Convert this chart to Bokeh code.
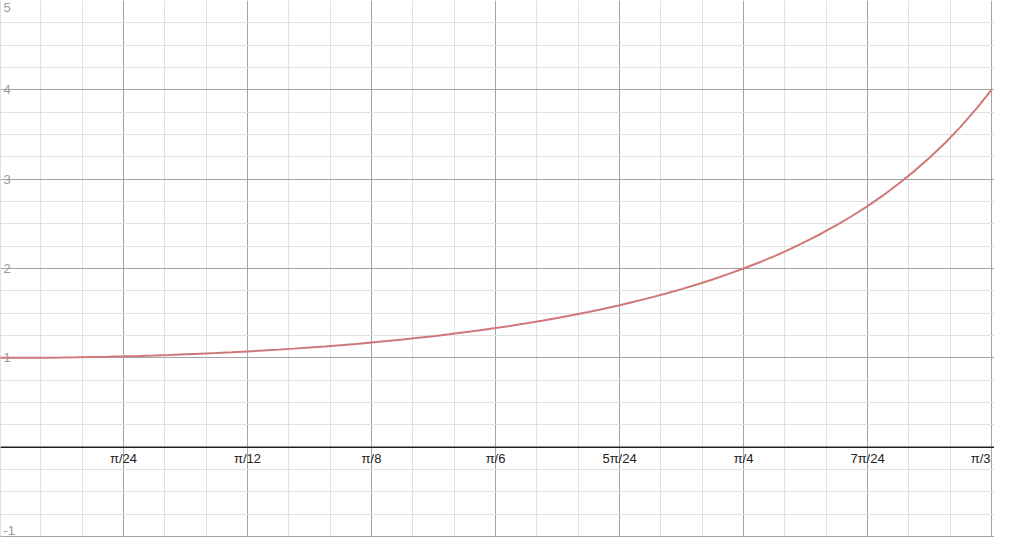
import math
from bokeh.plotting import figure
from bokeh.models import Grid, FixedTicker, Span, ColumnDataSource, Range1d
from bokeh.core.properties import value
from bokeh.embed import file_html
from bokeh.resources import INLINE

# Curve samples (radians, value)
curve_x = [0.0, 0.0164, 0.0327, 0.0491, 0.0654, 0.0818, 0.0982, 0.1145, 0.1309,
           0.1473, 0.1636, 0.1800, 0.1963, 0.2127, 0.2291, 0.2454, 0.2618,
           0.2782, 0.2945, 0.3109, 0.3272, 0.3436, 0.3600, 0.3763, 0.3927,
           0.4091, 0.4254, 0.4418, 0.4581, 0.4745, 0.4909, 0.5072, 0.5236,
           0.5400, 0.5563, 0.5727, 0.5890, 0.6054, 0.6218, 0.6381, 0.6545,
           0.6709, 0.6872, 0.7036, 0.7199, 0.7363, 0.7527, 0.7690, 0.7854,
           0.8018, 0.8181, 0.8345, 0.8508, 0.8672, 0.8836, 0.8999, 0.9163,
           0.9327, 0.9490, 0.9654, 0.9817, 0.9981, 1.0145, 1.0308, 1.0472]
curve_y = [1.000, 1.0003, 1.001, 1.0024, 1.004, 1.0067, 1.010, 1.0132, 1.017,
           1.022, 1.027, 1.0331, 1.040, 1.0467, 1.054, 1.0627, 1.072,
           1.0815, 1.092, 1.1032, 1.115, 1.128, 1.142, 1.1562, 1.172,
           1.1879, 1.205, 1.2237, 1.243, 1.2638, 1.286, 1.3088, 1.333,
           1.3593, 1.387, 1.4157, 1.447, 1.479, 1.514, 1.550, 1.589,
           1.630, 1.674, 1.720, 1.769, 1.8215, 1.877, 1.9366, 2.000,
           2.0677, 2.138, 2.2173, 2.300, 2.3892, 2.485, 2.5876, 2.698,
           2.818, 2.948, 3.0876, 3.240, 3.4055, 3.586, 3.7836, 4.000]

# Tick definitions
x_tick_mult = [1, 2, 3, 4, 5, 6, 7, 8]          # multiples of pi/24
x_tick_labels = ["π/24", "π/12", "π/8", "π/6", "5π/24", "π/4", "7π/24", "π/3"]
y_ticks = [-1, 1, 2, 3, 4, 5]
y_tick_labels = ["-1", "1", "2", "3", "4", "5"]

step = math.pi / 24
px = step / 126.0
x0, x1 = px * 1, px * 1011
y0, y1 = -1.011, 5.0

W, H = 994, 537
p = figure(width=W, height=H, x_axis_type=None, y_axis_type=None,
           x_range=Range1d(x0, x1), y_range=Range1d(y0, y1),
           output_backend="svg", toolbar_location=None, min_border=0)
p.outline_line_color = None
p.background_fill_color = "white"

xmaj = [k * step for k in range(0, 10)]
xmin = [k * step / 3 for k in range(0, 30)]
ymaj = list(range(-2, 7))
ymin = [k * 0.25 for k in range(-8, 25)]

gx = Grid(dimension=0, ticker=FixedTicker(ticks=xmaj, minor_ticks=xmin),
          grid_line_color="#a4a4a4", grid_line_width=1,
          minor_grid_line_color="#e2e2e2", minor_grid_line_width=1)
gy = Grid(dimension=1, ticker=FixedTicker(ticks=ymaj, minor_ticks=ymin),
          grid_line_color="#a4a4a4", grid_line_width=1,
          minor_grid_line_color="#e2e2e2", minor_grid_line_width=1)
p.add_layout(gx)
p.add_layout(gy)

p.add_layout(Span(location=0, dimension="width", line_color="#222222", line_width=1.5))
p.add_layout(Span(location=0, dimension="height", line_color="#222222", line_width=1.5))

p.line(curve_x, curve_y, line_color="#d07878", line_width=2)

font = value("Liberation Sans")
# x labels
xl_x = [m * step for m in x_tick_mult]
n = len(xl_x)
src_c = ColumnDataSource(dict(x=xl_x[:-1], y=[0] * (n - 1), t=x_tick_labels[:-1]))
p.text(x="x", y="y", text="t", source=src_c, text_align="center", text_baseline="top",
       y_offset=4, text_font=font, text_font_size="13px", text_color="#222222")
src_r = ColumnDataSource(dict(x=xl_x[-1:], y=[0], t=x_tick_labels[-1:]))
p.text(x="x", y="y", text="t", source=src_r, text_align="right", text_baseline="top",
       y_offset=4, x_offset=-1, text_font=font, text_font_size="13px", text_color="#222222")

# y labels
mid = [(v, t) for v, t in zip(y_ticks, y_tick_labels) if y0 + 0.1 < v < y1 - 0.1]
top = [(v, t) for v, t in zip(y_ticks, y_tick_labels) if v >= y1 - 0.1]
bot = [(v, t) for v, t in zip(y_ticks, y_tick_labels) if v <= y0 + 0.1]
for grp, base, yo in ((mid, "middle", 0), (top, "top", 2), (bot, "bottom", -2)):
    if not grp:
        continue
    s = ColumnDataSource(dict(x=[x0] * len(grp), y=[g[0] for g in grp], t=[g[1] for g in grp]))
    p.text(x="x", y="y", text="t", source=s, text_align="left", text_baseline=base,
           x_offset=3, y_offset=yo, text_font=font, text_font_size="13px", text_color="#9a9a9a")

open("out.html", "w").write(file_html(p, INLINE))
